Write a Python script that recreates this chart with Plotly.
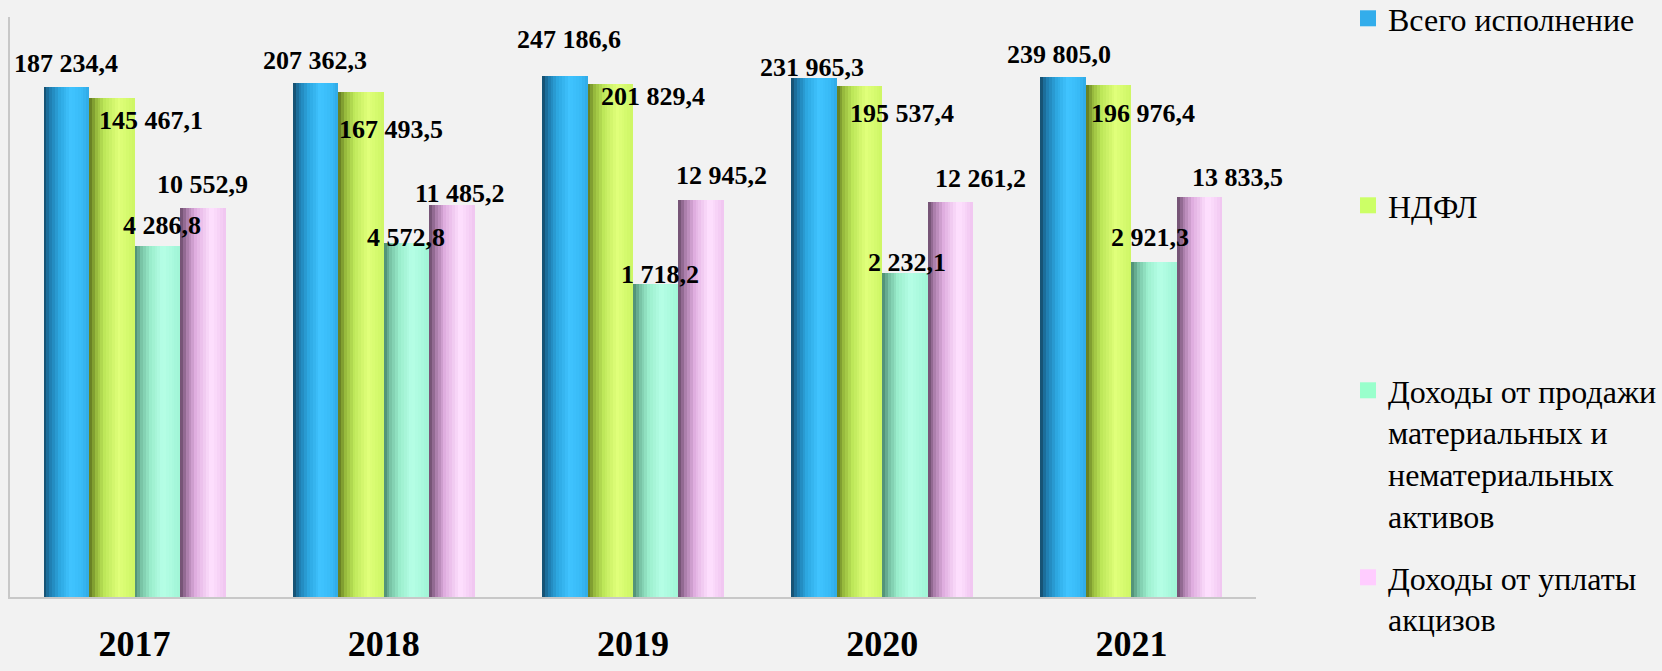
import math
import plotly.graph_objects as go

# ---------------- data ----------------
years = ["2017", "2018", "2019", "2020", "2021"]
total_exec = [187234.4, 207362.3, 247186.6, 231965.3, 239805.0]
ndfl = [145467.1, 167493.5, 201829.4, 195537.4, 196976.4]
assets_sale = [4286.8, 4572.8, 1718.2, 2232.1, 2921.3]
excise = [10552.9, 11485.2, 12945.2, 12261.2, 13833.5]
series_names = [
    "Всего исполнение",
    "НДФЛ",
    "Доходы от продажи<br>материальных и<br>нематериальных<br>активов",
    "Доходы от уплаты<br>акцизов",
]

# ---------------- styling ----------------
FONT = "Liberation Serif"
BG = "#f2f2f2"
base_colors = ["#33adeb", "#ccff66", "#99ffcc", "#ffccff"]
# cylinder-like shading stops (position, rgb)
gradients = [
    [(0.0, (20, 72, 100)), (0.12, (30, 120, 170)), (0.35, (45, 168, 225)),
     (0.6, (64, 196, 255)), (0.85, (56, 186, 246)), (1.0, (48, 170, 230))],
    [(0.0, (95, 115, 30)), (0.15, (150, 185, 60)), (0.35, (190, 232, 90)),
     (0.65, (224, 255, 122)), (1.0, (205, 246, 100))],
    [(0.0, (75, 135, 110)), (0.15, (120, 195, 165)), (0.35, (155, 238, 205)),
     (0.62, (182, 255, 230)), (1.0, (160, 245, 214))],
    [(0.0, (105, 75, 105)), (0.15, (170, 125, 170)), (0.35, (225, 175, 225)),
     (0.68, (255, 226, 255)), (1.0, (240, 196, 240))],
]
N_SLICES = 16
GROUP_HALF = 0.365          # half width of a group (category units)
BAR_W = 2 * GROUP_HALF / 4  # width of one bar

# label offsets (px) relative to bar centre / bar top  (dx, dy up)
label_offsets = [
    [(0, 26), (-1, 25), (4, 38), (-2, 13), (-4, 24)],
    [(39, -21), (30, -35), (43, -10), (43, -26), (34, -26)],
    [(5, 22), (-1, 8), (4, 12), (2, 13), (-4, 26)],
    [(0, 26), (8, 13), (20, 26), (30, 25), (38, 21)],
]


def interp(stops, t):
    for (p0, c0), (p1, c1) in zip(stops[:-1], stops[1:]):
        if p0 <= t <= p1:
            f = (t - p0) / (p1 - p0) if p1 > p0 else 0
            return "rgb(%d,%d,%d)" % tuple(round(a + (b - a) * f) for a, b in zip(c0, c1))
    return "rgb(%d,%d,%d)" % stops[-1][1]


def fmt(v):
    return f"{v:,.1f}".replace(",", " ").replace(".", ",")


all_series = [total_exec, ndfl, assets_sale, excise]
legend_names = ["legend", "legend2", "legend3", "legend4"]

fig = go.Figure()
for i, vals in enumerate(all_series):
    left = -GROUP_HALF + i * BAR_W
    # base bar
    fig.add_trace(go.Bar(
        x=years, y=vals, name=series_names[i].replace("<br>", " "),
        marker_color=base_colors[i], marker_line_width=0,
        offset=left, width=BAR_W, showlegend=False,
    ))
    # shading slices
    sw = BAR_W / N_SLICES
    for k in range(N_SLICES):
        t = (k + 0.5) / N_SLICES
        fig.add_trace(go.Bar(
            x=years, y=vals, marker_color=interp(gradients[i], t),
            marker_line_width=0, offset=left + k * sw,
            width=sw * 1.08 if k < N_SLICES - 1 else sw,
            showlegend=False, hoverinfo="skip",
        ))
    # legend entry (square swatch)
    fig.add_trace(go.Scatter(
        x=[None], y=[None], mode="markers", name=series_names[i],
        marker=dict(symbol="square", size=18, color=base_colors[i], line_width=0),
        legend=legend_names[i], showlegend=True, hoverinfo="skip",
    ))

annotations = []
for i, vals in enumerate(all_series):
    centre = -GROUP_HALF + (i + 0.5) * BAR_W
    for j, v in enumerate(vals):
        dx, dy = label_offsets[i][j]
        annotations.append(dict(
            x=j + centre, y=math.log10(v), xref="x", yref="y",
            text=fmt(v), showarrow=False, xanchor="center", yanchor="middle",
            xshift=dx, yshift=dy - 2,
            font=dict(family=FONT, size=26, color="black", weight="bold"),
        ))

legend_common = dict(
    font=dict(family=FONT, size=32, color="black"),
    bgcolor="rgba(0,0,0,0)", borderwidth=0, xanchor="left", yanchor="top",
    valign="top", itemclick=False, itemdoubleclick=False,
)
leg_x = 1.0 + (1348 - 1256) / 1246
leg_ys = [-9, 178, 363, 550]
legends = {}
for name, ypx in zip(legend_names, leg_ys):
    legends[name] = dict(legend_common, x=leg_x, y=1 - (ypx - 17) / 580)

fig.update_layout(
    width=1662, height=671,
    margin=dict(l=10, r=406, t=17, b=74, autoexpand=False),
    paper_bgcolor=BG, plot_bgcolor=BG,
    barmode="overlay", bargap=0,
    annotations=annotations,
    **legends,
    xaxis=dict(
        type="category", range=[-0.5, 4.5], showgrid=False, zeroline=False,
        showline=True, linecolor="#c8c8c8", linewidth=2, ticks="",
        tickfont=dict(family=FONT, size=36, color="black", weight="bold"),
        ticklabelstandoff=14, automargin=False,
    ),
    yaxis=dict(
        type="log", range=[0, 6], showgrid=False, zeroline=False,
        showline=True, linecolor="#c8c8c8", linewidth=2, ticks="",
        showticklabels=False, automargin=False,
    ),
)

fig.write_html(
    "out.html",
    config={"displayModeBar": False},
    post_script="document.body.style.margin='0';document.body.style.background='#f2f2f2';"
                "document.body.style.overflow='hidden';",
)
